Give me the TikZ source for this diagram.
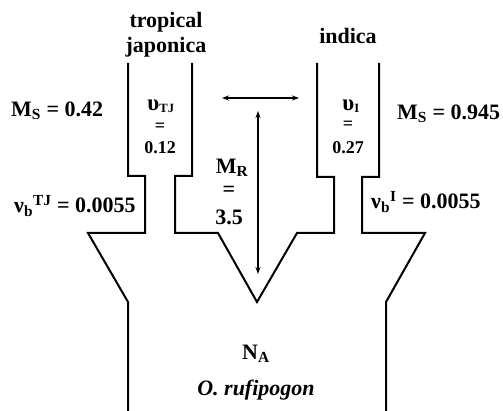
\documentclass[tikz,border=0pt]{standalone}
\usepackage{fontspec}
\setmainfont{Liberation Serif}
\usetikzlibrary{arrows.meta}
\begin{document}
\begin{tikzpicture}[x=1pt,y=-1pt,
  wall/.style={line width=2pt,line join=miter},
  dbl/.style={line width=1.5pt,{Stealth[length=7pt,width=5pt]}-{Stealth[length=7pt,width=5pt]}},
  lbl/.style={font=\fontsize{22}{24}\selectfont\bfseries,inner sep=0pt},
  tube/.style={font=\fontsize{18}{20}\selectfont\bfseries,inner sep=0pt}]
\useasboundingbox (0,0) rectangle (503,411);
% walls
\draw[wall] (128,63)--(128,176)--(145,176)--(145,233)--(88,233)--(128,302)--(128,411);
\draw[wall] (192,63)--(192,176)--(175,176)--(175,233)--(218,233)--(257,302)--(297,233)--(334,233)--(334,177)--(317,177)--(317,63);
\draw[wall] (379,63)--(379,177)--(362,177)--(362,233)--(425,233)--(386,302)--(386,411);
% arrows
\coordinate (hl) at (222,98);
\coordinate (hr) at (299,98);
\coordinate (vt) at (258,111);
\coordinate (vb) at (258,274);
\draw[dbl] (hl)--(hr);
\draw[dbl] (vt)--(vb);
% labels
\node[lbl] (tp) at (166,22) {tropical};
\node[lbl] (jp) at (166,47) {japonica};
\node[lbl] (ind) at (348,36) {indica};
\node[lbl,anchor=west] (msl) at (11,111) {M\textsubscript{S} = 0.42};
\node[lbl,anchor=west] (msr) at (397,114) {M\textsubscript{S} = 0.945};
\node[tube] (utj) at (161,106) {{\fontsize{23}{24}\selectfont υ}\textsubscript{TJ}};
\node[tube] (etj) at (160,127) {=};
\node[tube] (vtj) at (160,148) {0.12};
\node[tube] (ui) at (351,106) {{\fontsize{23}{24}\selectfont υ}\textsubscript{I}};
\node[tube] (ei) at (348,125) {=};
\node[tube] (vi) at (348,148) {0.27};
\node[lbl] (mr) at (232,168) {M\textsubscript{R}};
\node[lbl] (er) at (229,191) {=};
\node[lbl] (vr) at (229,217) {3.5};
\node[lbl,anchor=west] (nbl) at (14,206) {ν\textsubscript{b}\textsuperscript{TJ} = 0.0055};
\node[lbl,anchor=west] (nbr) at (371,202) {ν\textsubscript{b}\textsuperscript{I} = 0.0055};
\node[lbl] (na) at (256,354) {N\textsubscript{A}};
\node[lbl,font=\fontsize{22}{24}\selectfont\bfseries\itshape] (or) at (256,390) {O. rufipogon};
\end{tikzpicture}
\end{document}
